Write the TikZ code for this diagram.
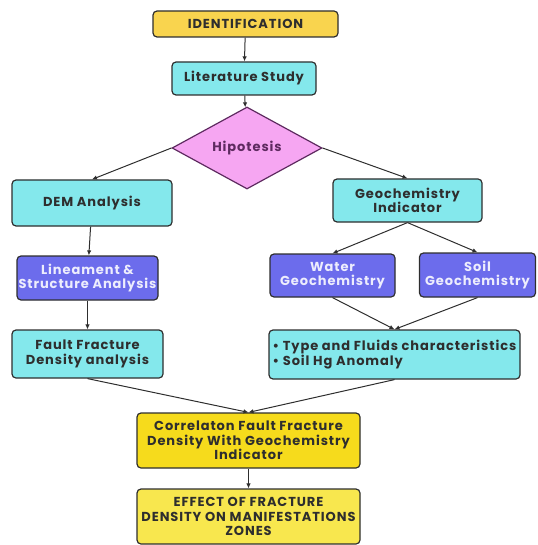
\documentclass[tikz,border=0pt]{standalone}
\usepackage{fontspec}
\setmainfont{Poppins}[LetterSpace=7]
\usepackage{tikz}
\usetikzlibrary{arrows.meta,positioning,shapes.geometric}
\definecolor{Gold}{HTML}{F9D44E}
\definecolor{Lemon}{HTML}{F6DB1C}
\definecolor{PaleLemon}{HTML}{F8E74E}
\definecolor{Aqua}{HTML}{84E8EC}
\definecolor{Violet}{HTML}{6C6CEC}
\definecolor{Pink}{HTML}{F6A6F2}
\definecolor{Plum}{HTML}{5E2A60}
\definecolor{Ink}{HTML}{2E2E2E}

\begin{document}
\begin{tikzpicture}[
  x=1pt,y=-1pt,
  font=\fontsize{13}{14.5}\selectfont\bfseries,
  box/.style={draw=Ink,line width=1.2pt,rounded corners=4pt,align=center,text=Ink,inner sep=1pt},
  stage/.style={box,fill=Gold},
  study/.style={box,fill=Aqua},
  method/.style={box,fill=Violet,text=white!88!Violet},
  result/.style={box,fill=Lemon},
  finalbox/.style={box,fill=PaleLemon},
  decision/.style={diamond,draw=Plum,line width=1.2pt,fill=Pink,text=Plum,inner sep=0pt,aspect=1.8},
  arr/.style={-{Latex[length=5pt,width=4.5pt]},line width=1pt,color=Ink}
]
\useasboundingbox (0,0) rectangle (537,545);

\node[stage,minimum width=185pt,minimum height=26pt] (ident) at (245.5,24) {IDENTIFICATION};
\node[study,minimum width=144pt,minimum height=33pt] (lit) at (244,78.5) {Literature Study};
\node[decision,minimum width=150pt,minimum height=82pt] (hyp) at (247,148) {Hipotesis};

\node[study,minimum width=160pt,minimum height=46pt] (dem) at (92,203) {DEM Analysis};
\node[study,minimum width=149pt,minimum height=43pt] (geo) at (407.5,200.5) {Geochemistry\\Indicator};

\node[method,minimum width=141pt,minimum height=44pt] (lin) at (87.5,278) {Lineament \&\\Structure Analysis};
\node[method,minimum width=125pt,minimum height=43pt] (water) at (332.5,275.5) {Water\\Geochemistry};
\node[method,minimum width=116pt,minimum height=44pt] (soil) at (477.5,275) {Soil\\Geochemistry};

\node[study,minimum width=151pt,minimum height=48pt] (fault) at (87.5,354) {Fault Fracture\\Density analysis};
\node[study,minimum width=251pt,minimum height=49pt,align=left] (fluid) at (394.5,354.5)
  {• Type and Fluids characteristics\\• Soil Hg Anomaly};

\node[result,minimum width=223pt,minimum height=55pt] (corr) at (248.5,440.5)
  {Correlaton Fault Fracture\\Density With Geochemistry\\Indicator};
\node[finalbox,minimum width=223pt,minimum height=55pt] (effect) at (248.5,516.5)
  {EFFECT OF FRACTURE\\DENSITY ON MANIFESTATIONS\\ZONES};

\draw[arr] (ident)--(lit);
\draw[arr] (lit)--(hyp);
\draw[arr] (hyp.west)--(dem.north);
\draw[arr] (hyp.east)--(geo.north);
\draw[arr] (dem)--(lin);
\draw[arr] (lin)--(fault);
\draw[arr] (geo.south)--(water.north);
\draw[arr] (geo.south)--(soil.north);
\draw[arr] (water.south)--(fluid.north);
\draw[arr] (soil.south)--(fluid.north);
\draw[arr] (fault.south)--(corr.north);
\draw[arr] (fluid.south)--(corr.north);
\draw[arr] (corr)--(effect);
\end{tikzpicture}
\end{document}
